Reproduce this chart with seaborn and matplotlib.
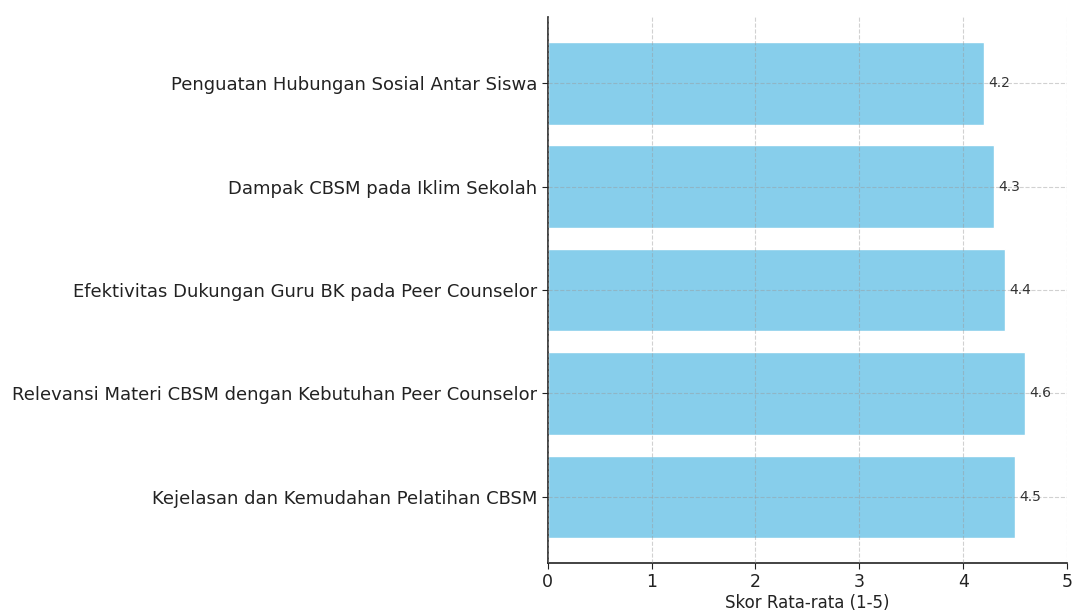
import pandas as pd
import matplotlib
matplotlib.use('Agg')
import matplotlib.pyplot as plt
import seaborn as sns

# data, bottom to top as in the picture
aspek = ['Kejelasan dan Kemudahan Pelatihan CBSM',
         'Relevansi Materi CBSM dengan Kebutuhan Peer Counselor',
         'Efektivitas Dukungan Guru BK pada Peer Counselor',
         'Dampak CBSM pada Iklim Sekolah',
         'Penguatan Hubungan Sosial Antar Siswa']
skor = [4.5, 4.6, 4.4, 4.3, 4.2]

sns.set_style('white')
plt.rcParams['font.family'] = ['DejaVu Sans']

df = pd.DataFrame({'Aspek': aspek, 'Skor': skor})

fig = plt.figure(figsize=(10.74, 6.12), dpi=100)
ax = fig.add_axes([0.510, 0.080, 0.4835, 0.892])

# seaborn puts the first category on top, so reverse
sns.barplot(data=df, y='Aspek', x='Skor', order=aspek[::-1], color='#87CEEB',
            saturation=1, width=0.8, orient='h', ax=ax)

for i, (a, s) in enumerate(zip(aspek[::-1], skor[::-1])):
    ax.text(s + 0.04, i, str(s), va='center', ha='left', fontsize=10, color='#333333')

ax.set_xlim(0, 5)
ax.set_ylim(4.64, -0.64)
ax.set_xticks(range(6))
ax.set_xlabel('Skor Rata-rata (1-5)', fontsize=12, color='#222222', labelpad=2)
ax.set_ylabel('')
ax.tick_params(axis='y', left=True, labelsize=13, length=4, color='#222222', labelcolor='#222222')
ax.tick_params(axis='x', bottom=True, labelsize=12.5, length=4, color='#222222', labelcolor='#222222')
# grid lies over the bars, faint
ax.set_axisbelow(False)
ax.grid(True, linestyle='--', color='#999999', alpha=0.45, linewidth=0.8)
for side in ['top', 'right']:
    ax.spines[side].set_visible(False)
for side in ['left', 'bottom']:
    ax.spines[side].set_color('#222222')
    ax.spines[side].set_linewidth(1.2)

fig.savefig('out.png', dpi=100)
